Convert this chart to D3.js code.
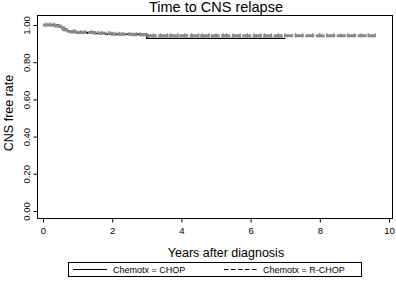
<!doctype html>
<html>
<head>
<script src="https://d3js.org/d3.v7.min.js"></script>
<style>
  body { margin: 0; background: #fff; }
  text { font-family: "Liberation Sans", Arial, Helvetica, sans-serif; fill: #000; }
</style>
</head>
<body>
<div id="chart"></div>
<script>
// Kaplan-Meier steps
var chopTimes = [0, 0.45, 0.55, 0.65, 0.8, 1.3, 1.8, 3.0, 7.0];
var chopSurv  = [1.0, 0.99, 0.98, 0.97, 0.96, 0.955, 0.95, 0.928, 0.928];

var rchopTimes = [0, 0.35, 0.5, 0.6, 0.75, 1.0, 1.5, 2.0, 2.6, 3.0, 9.6];
var rchopSurv  = [1.0, 0.995, 0.985, 0.975, 0.965, 0.96, 0.955, 0.95, 0.948, 0.942, 0.942];

// censoring marks on the R-CHOP curve (years)
var rchopCensor = [0.1, 0.2, 0.3, 0.9, 1.1, 1.2, 1.4, 1.6, 1.7, 1.9, 2.1, 2.2, 2.3, 2.5, 2.7, 2.8,
                   3.2, 3.4, 3.6, 3.7, 3.9, 4.1, 4.3, 4.5, 4.6, 4.8, 5.0, 5.2, 5.3, 5.5, 5.7, 5.9,
                   6.1, 6.3, 6.4, 6.6, 6.8, 7.0, 7.3, 7.5, 7.8, 8.0, 8.2, 8.4, 8.6, 8.8, 9.0, 9.2, 9.4, 9.6];

var xTicks = [0, 2, 4, 6, 8, 10];
var yTicks = [0, 0.2, 0.4, 0.6, 0.8, 1.0];

var width = 396, height = 285;
var plotL = 37, plotR = 392, plotT = 15, plotB = 218;

var svg = d3.select("#chart").append("svg")
  .attr("width", width).attr("height", height);

var x = d3.scaleLinear().domain([0, 10]).range([43, 389]);
var y = d3.scaleLinear().domain([0, 1]).range([211, 25]);

// plot frame
svg.append("rect")
  .attr("x", plotL + 0.5).attr("y", plotT + 0.5)
  .attr("width", plotR - plotL).attr("height", plotB - plotT)
  .attr("fill", "none").attr("stroke", "#000").attr("stroke-width", 1);

// x axis
var xAxis = svg.append("g").attr("transform", "translate(0," + (plotB + 0.5) + ")")
  .call(d3.axisBottom(x).tickValues(xTicks).tickSize(4).tickFormat(d3.format("d")));
xAxis.select(".domain").remove();
xAxis.selectAll("text").attr("font-size", 9.5).attr("dy", "0.85em")
  .style("font-family", "Liberation Sans, Arial, sans-serif");

// y axis with rotated labels
var yAxis = svg.append("g").attr("transform", "translate(" + (plotL + 0.5) + ",0)")
  .call(d3.axisLeft(y).tickValues(yTicks).tickSize(4).tickFormat(d3.format(".2f")));
yAxis.select(".domain").remove();
yAxis.selectAll("text")
  .attr("font-size", 9.5)
  .attr("x", 0).attr("y", 0).attr("dy", 0)
  .attr("text-anchor", "middle")
  .attr("transform", "translate(-8,0) rotate(-90)")
  .style("font-family", "Liberation Sans, Arial, sans-serif");

function stepLine(times, surv) {
  var pts = [];
  for (var i = 0; i < times.length; i++) {
    if (i > 0) pts.push([times[i], surv[i - 1]]);
    pts.push([times[i], surv[i]]);
  }
  return d3.line().x(function(d) { return x(d[0]); }).y(function(d) { return y(d[1]); })(pts);
}

function survAt(times, surv, t) {
  var s = surv[0];
  for (var i = 0; i < times.length; i++) { if (times[i] <= t) s = surv[i]; }
  return s;
}

// CHOP - solid black
svg.append("path")
  .attr("d", stepLine(chopTimes, chopSurv))
  .attr("fill", "none").attr("stroke", "#000").attr("stroke-width", 1.4);

// R-CHOP - dashed grey with censor ticks
svg.append("path")
  .attr("d", stepLine(rchopTimes, rchopSurv))
  .attr("fill", "none").attr("stroke", "#8a8a8a").attr("stroke-width", 3)
  .attr("stroke-dasharray", "9,1.5");

svg.selectAll(".cens").data(rchopCensor).enter().append("line")
  .attr("class", "cens")
  .attr("x1", function(d) { return x(d); }).attr("x2", function(d) { return x(d); })
  .attr("y1", function(d) { return y(survAt(rchopTimes, rchopSurv, d)) - 2.5; })
  .attr("y2", function(d) { return y(survAt(rchopTimes, rchopSurv, d)) + 1.5; })
  .attr("stroke", "#8a8a8a").attr("stroke-width", 1.5);

// titles
svg.append("text").attr("x", 216).attr("y", 12).attr("text-anchor", "middle")
  .attr("font-size", 14.5).text("Time to CNS relapse");

svg.append("text").attr("x", 226).attr("y", 257).attr("text-anchor", "middle")
  .attr("font-size", 12.5).text("Years after diagnosis");

svg.append("text").attr("transform", "translate(13,113) rotate(-90)")
  .attr("text-anchor", "middle").attr("font-size", 12.5).text("CNS free rate");

// legend
var legend = svg.append("g");
legend.append("rect").attr("x", 68.5).attr("y", 262.5).attr("width", 293).attr("height", 14)
  .attr("fill", "none").attr("stroke", "#000").attr("stroke-width", 1);
legend.append("line").attr("x1", 73).attr("x2", 107).attr("y1", 269.5).attr("y2", 269.5)
  .attr("stroke", "#000").attr("stroke-width", 1);
legend.append("text").attr("x", 113).attr("y", 273).attr("font-size", 9).text("Chemotx = CHOP");
legend.append("line").attr("x1", 224).attr("x2", 258).attr("y1", 269.5).attr("y2", 269.5)
  .attr("stroke", "#000").attr("stroke-width", 1).attr("stroke-dasharray", "4.5,2.5");
legend.append("text").attr("x", 263).attr("y", 273).attr("font-size", 9).text("Chemotx = R-CHOP");
</script>
</body>
</html>
